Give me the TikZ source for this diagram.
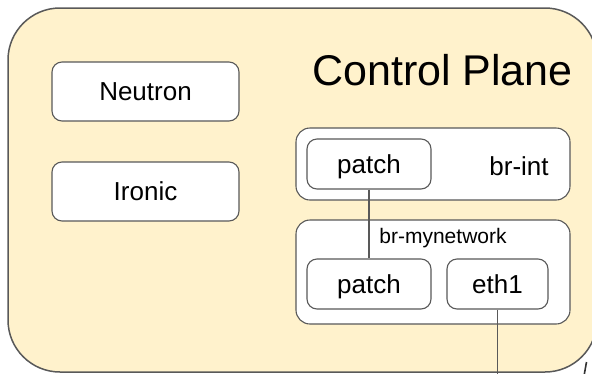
\documentclass[tikz,border=0pt]{standalone}
\usepackage{fontspec}
\setmainfont{Liberation Sans}
\definecolor{planefill}{HTML}{FFF2CC}
\definecolor{edge}{HTML}{595959}
\begin{document}
\begin{tikzpicture}[x=1pt,y=-1pt,
  box/.style={draw=edge,fill=white,line width=1.1pt,rounded corners=10pt,inner sep=0pt,
    text height=18.6pt,text depth=0pt,font=\fontsize{26}{30}\selectfont},
  bridge/.style={draw=edge,fill=white,line width=1.1pt,rounded corners=14pt,inner sep=0pt},
  lbl/.style={anchor=base,inner sep=0pt,font=\fontsize{26}{30}\selectfont},
  link/.style={draw=edge,line width=1.1pt}]
\useasboundingbox (0,0) rectangle (592,373);
% control plane
\draw[draw=edge,fill=planefill,line width=1.5pt,rounded corners=52pt] (8,8) rectangle (597,372);
\node[anchor=base,inner sep=0pt,font=\fontsize{43}{48}\selectfont] (cp) at (442.5,85) {Control Plane};
% services
\node[box,minimum width=187pt,minimum height=59pt] (neutron) at (145.5,91.5) {Neutron};
\node[box,minimum width=187pt,minimum height=59pt] (ironic) at (145.5,191.5) {Ironic};
% bridges
\node[bridge,minimum width=274pt,minimum height=72pt] (brint) at (433,164) {};
\node[lbl] (brintl) at (519,175) {br-int};
\node[bridge,minimum width=274pt,minimum height=104pt] (brmy) at (433,272) {};
\node[lbl,font=\fontsize{21}{25}\selectfont] (brmyl) at (443,243) {br-mynetwork};
% ports
\node[box,minimum width=124pt,minimum height=50pt] (patch1) at (369,164) {patch};
\node[box,minimum width=124pt,minimum height=50pt] (patch2) at (369,284) {patch};
\node[box,minimum width=101pt,minimum height=50pt] (eth1) at (497.5,284) {eth1};
\coordinate (down) at (497.5,380);
% links
\draw[link] (patch1.south) -- (patch2.north);
\draw[link] (eth1.south) -- (down);
% fragment at lower right
\coordinate (fa) at (586.5,362);
\coordinate (fb) at (584,376);
\draw[line width=1.6pt,draw=black!80] (fa) -- (fb);
\end{tikzpicture}
\end{document}
